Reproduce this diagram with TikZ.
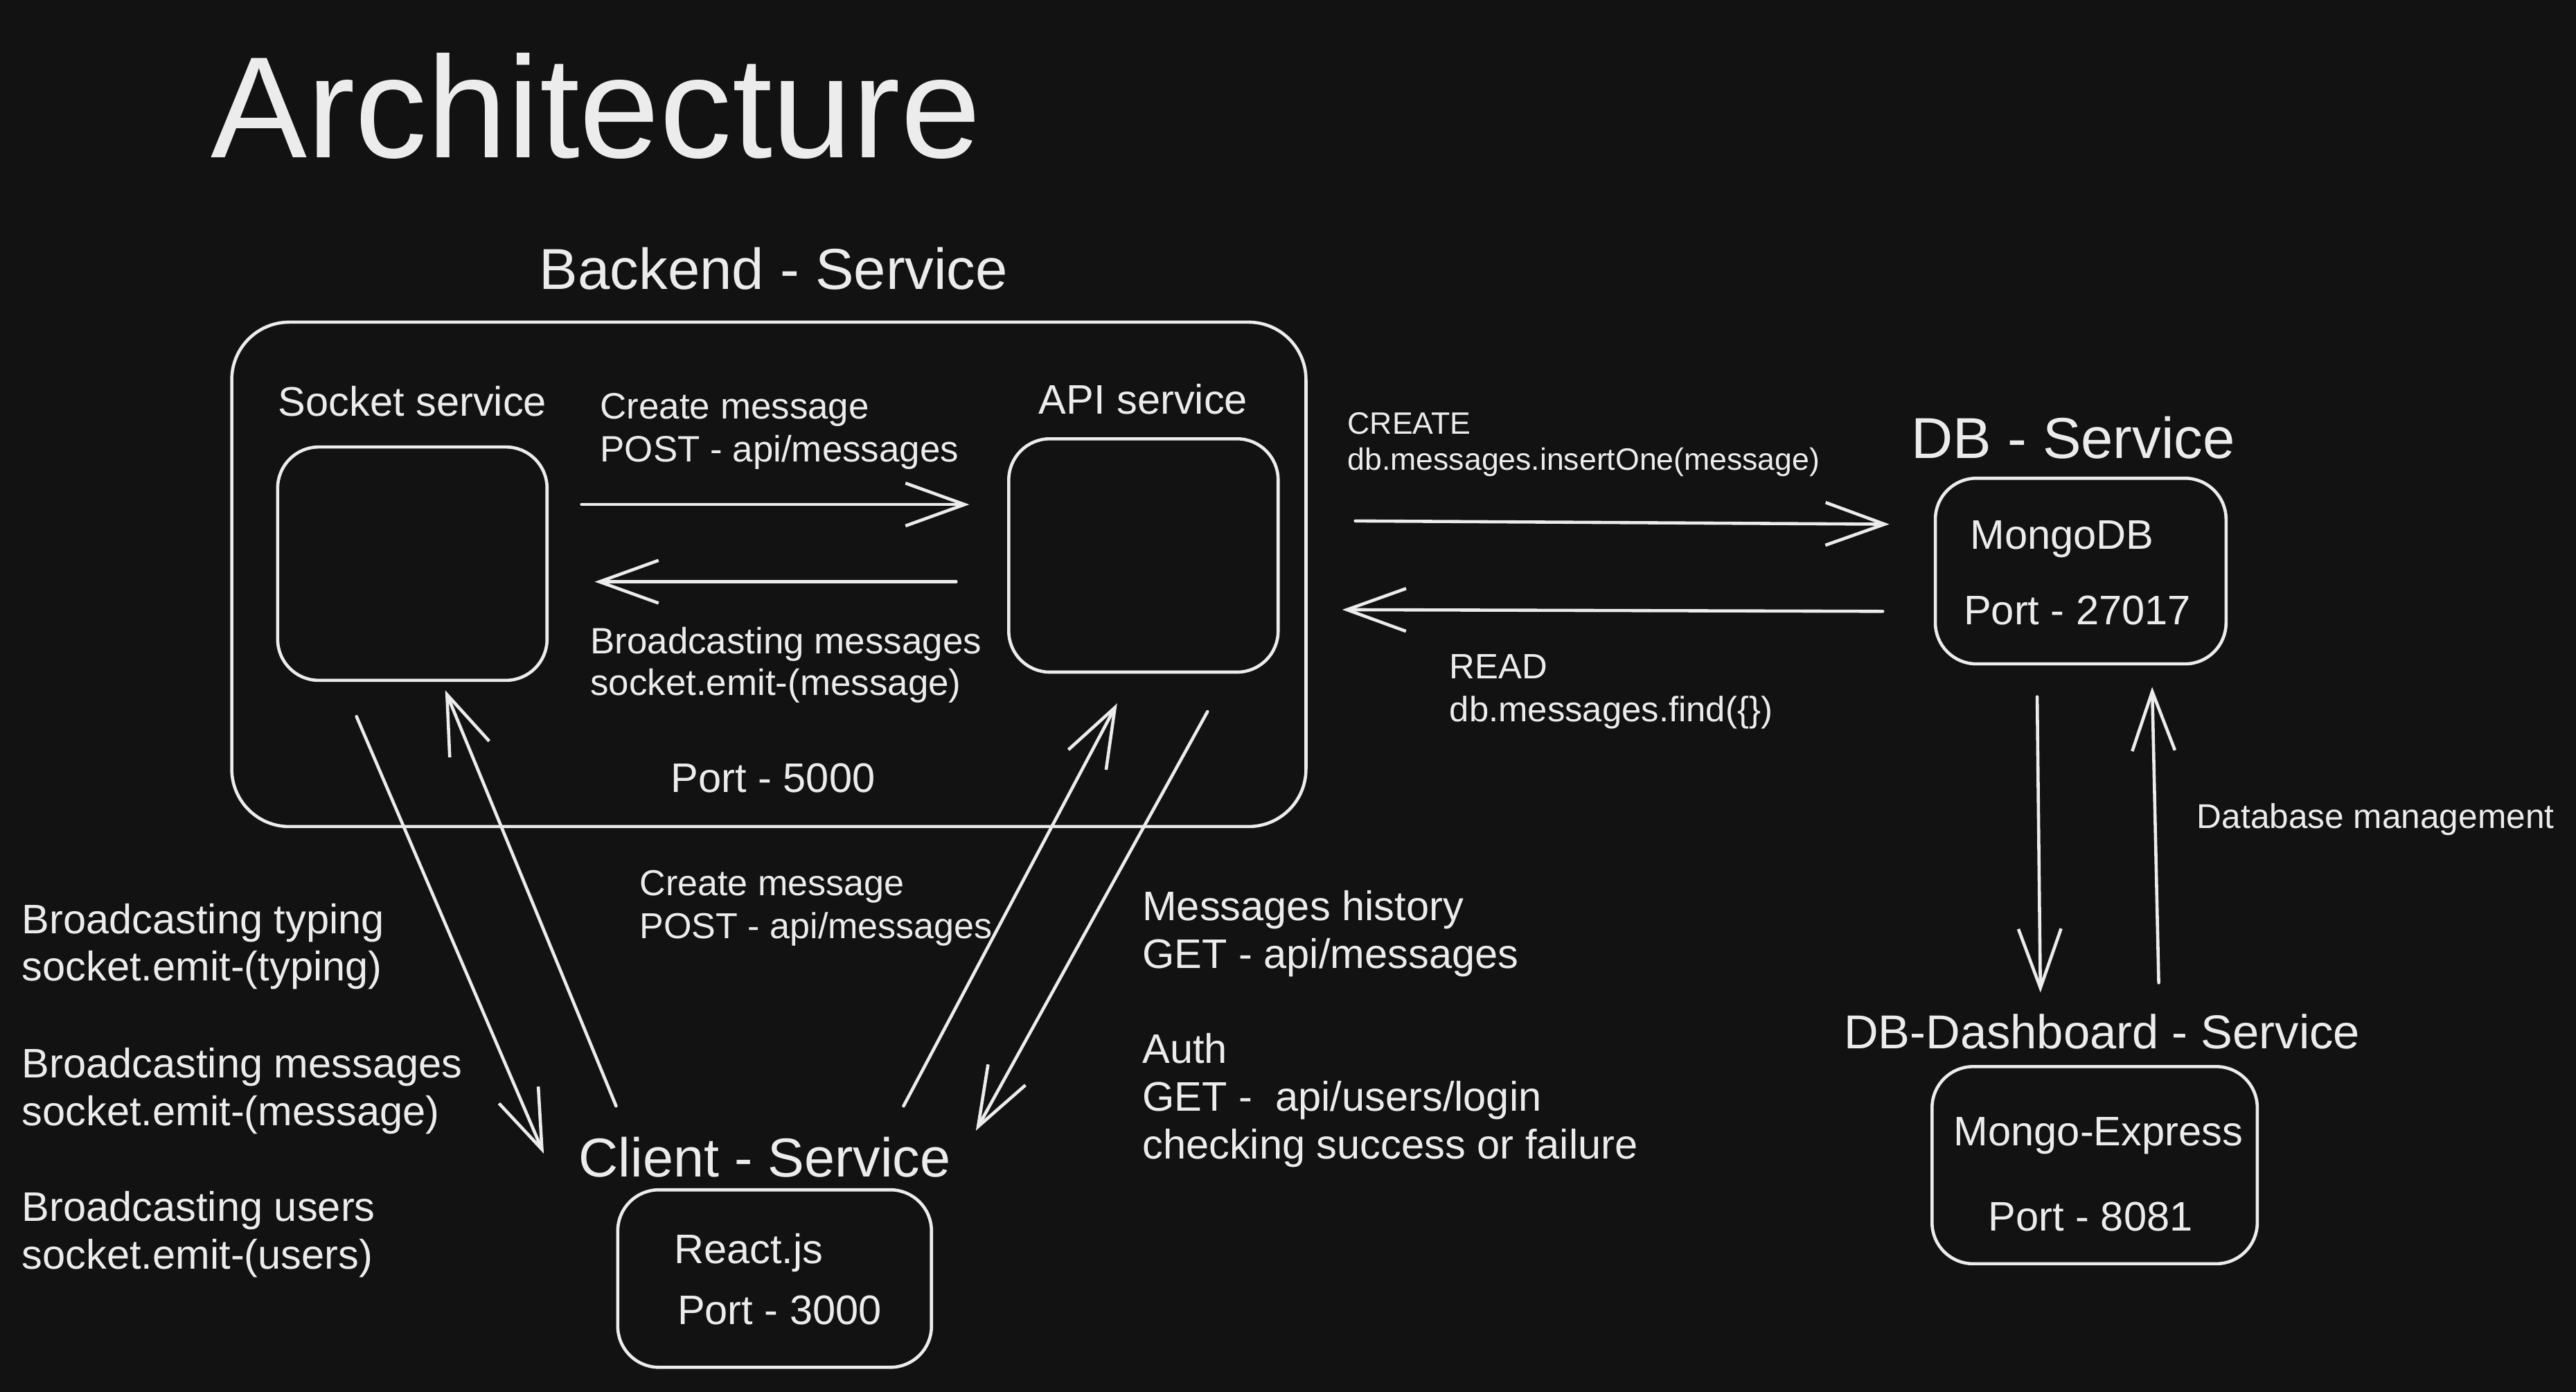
\documentclass[tikz,border=0pt]{standalone}
\usepackage{fontspec}
\setmainfont{Liberation Sans}
\usetikzlibrary{arrows.meta}
\definecolor{bg}{HTML}{121212}
\definecolor{fg}{HTML}{ECECEC}
\tikzset{
  lbl/.style={text=fg, inner sep=0pt, anchor=base west, font=\fontsize{#1}{#1}\selectfont},
  lbl/.default=14.3pt,
  box/.style={draw=fg, line width=1.1pt, inner sep=0pt},
  arr/.style={draw=fg, line width=1.1pt, line cap=round,
    -{Straight Barb[length=0.72cm,width=0.52cm,line width=1.1pt]}},
}
\begin{document}
\begin{tikzpicture}[x=0.02cm,y=-0.02cm]
\fill[bg] (0,0) rectangle (1568,847);
\useasboundingbox (0,0) rectangle (1568,847);

% title
\node[lbl=50pt] (title) at (128,96) {Architecture};

% Backend
\node[lbl=20pt] (backendT) at (328,176) {Backend - Service};
\node[box, rounded corners=0.7cm, minimum width=13.08cm, minimum height=6.14cm] (backend) at (468,349.5) {};
\node[box, rounded corners=0.5cm, minimum width=3.28cm, minimum height=2.84cm] (sock) at (251,343) {};
\node[box, rounded corners=0.5cm, minimum width=3.28cm, minimum height=2.84cm] (api) at (696,338) {};
\node[lbl] (sockT) at (169,253) {Socket service};
\node[lbl] (apiT) at (632,252) {API service};
\node[lbl=12.7pt] (cm1) at (365,255) {Create message};
\node[lbl=12.7pt] (cm2) at (365,281) {POST - api/messages};
\node[lbl=12.7pt] (bm1) at (359,398) {Broadcasting messages};
\node[lbl=12.7pt] (bm2) at (359,423) {socket.emit-(message)};
\node[lbl] (port5000) at (408,482) {Port - 5000};

% DB
\node[lbl=20pt] (dbT) at (1163,279) {DB - Service};
\node[box, rounded corners=0.5cm, minimum width=3.54cm, minimum height=2.26cm] (mongo) at (1266.5,347.5) {};
\node[lbl] (mongoT) at (1199,334) {MongoDB};
\node[lbl] (mongoP) at (1195,380) {Port - 27017};
\node[lbl=10.7pt] (cr1) at (820,264) {CREATE};
\node[lbl=10.7pt] (cr2) at (820,286) {db.messages.insertOne(message)};
\node[lbl=12.2pt] (rd1) at (882,413) {READ};
\node[lbl=12.2pt] (rd2) at (882,439) {db.messages.find(\{\})};
\node[lbl=11.9pt] (dbm) at (1337,504) {Database management};

% DB dashboard
\node[lbl=16.5pt] (dashT) at (1122,638) {DB-Dashboard - Service};
\node[box, rounded corners=0.5cm, minimum width=3.96cm, minimum height=2.4cm] (express) at (1275,709) {};
\node[lbl] (expT) at (1189,697) {Mongo-Express};
\node[lbl] (expP) at (1210,749) {Port - 8081};

% Client
\node[lbl=19pt] (clientT) at (352,716) {Client - Service};
\node[box, rounded corners=0.5cm, minimum width=3.82cm, minimum height=2.16cm] (react) at (471.5,778) {};
\node[lbl] (reactT) at (410,769) {React.js};
\node[lbl] (reactP) at (412,806) {Port - 3000};

% left labels
\node[lbl] (bt1) at (13,568) {Broadcasting typing};
\node[lbl] (bt2) at (13,597) {socket.emit-(typing)};
\node[lbl] (bm3) at (13,656) {Broadcasting messages};
\node[lbl] (bm4) at (13,685) {socket.emit-(message)};
\node[lbl] (bu1) at (13,743) {Broadcasting users};
\node[lbl] (bu2) at (13,772) {socket.emit-(users)};

% middle bottom labels
\node[lbl=12.5pt] (cm3) at (389,545) {Create message};
\node[lbl=12.5pt] (cm4) at (389,571) {POST - api/messages};
\node[lbl] (mh1) at (695,560) {Messages history};
\node[lbl] (mh2) at (695,589) {GET - api/messages};
\node[lbl] (au1) at (695,647) {Auth};
\node[lbl] (au2) at (695,676) {GET -\ \ api/users/login};
\node[lbl] (au3) at (695,705) {checking success or failure};

% connector end points
\coordinate (sockR1) at (354,307);  \coordinate (apiL1) at (590,307);
\coordinate (apiL2) at (582,354);   \coordinate (sockR2) at (362,354);
\coordinate (apiR1) at (825,317);   \coordinate (mongoL1) at (1150,319);
\coordinate (mongoL2) at (1146,372);\coordinate (apiR2) at (817,371);
\coordinate (mongoB1) at (1240,424);\coordinate (expT1) at (1242,604);
\coordinate (expT2) at (1314,598);  \coordinate (mongoB2) at (1310,418);
\coordinate (sockB1) at (217,436);  \coordinate (clientL1) at (331,702);
\coordinate (clientL2) at (375,673);\coordinate (sockB2) at (271,420);
\coordinate (clientR1) at (550,673);\coordinate (apiB1) at (680,428);
\coordinate (apiB2) at (735,433);   \coordinate (clientR2) at (594,688);

\draw[arr] (sockR1) -- (apiL1);
\draw[arr] (apiL2) -- (sockR2);
\draw[arr] (apiR1) -- (mongoL1);
\draw[arr] (mongoL2) -- (apiR2);
\draw[arr] (mongoB1) -- (expT1);
\draw[arr] (expT2) -- (mongoB2);
\draw[arr] (sockB1) -- (clientL1);
\draw[arr] (clientL2) -- (sockB2);
\draw[arr] (clientR1) -- (apiB1);
\draw[arr] (apiB2) -- (clientR2);
\end{tikzpicture}
\end{document}
